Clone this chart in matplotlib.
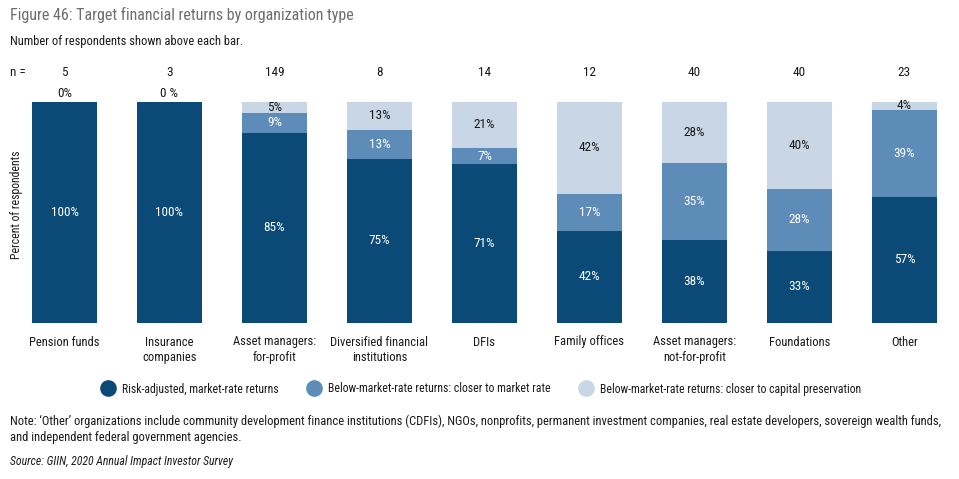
import matplotlib
matplotlib.use("Agg")
import matplotlib.pyplot as plt
from matplotlib import font_manager, transforms
import numpy as np

# narrow faces first, whatever is installed
wanted = ['Liberation Sans Narrow', 'DejaVu Sans Condensed', 'Roboto Condensed',
          'Open Sans Condensed', 'Liberation Sans', 'DejaVu Sans']
have = {f.name for f in font_manager.fontManager.ttflist}
plt.rcParams['font.family'] = [f for f in wanted if f in have]
plt.rcParams['font.stretch'] = 'condensed'

categories = ["Pension funds", "Insurance\ncompanies", "Asset managers:\nfor-profit",
              "Diversified financial\ninstitutions", "DFIs", "Family offices",
              "Asset managers:\nnot-for-profit", "Foundations", "Other"]
n_resp = [5, 3, 149, 8, 14, 12, 40, 40, 23]
market_rate = [100, 100, 85, 75, 71, 42, 38, 33, 57]
closer_market = [0, 0, 9, 13, 7, 17, 35, 28, 39]
closer_capital = [0, 0, 5, 13, 21, 42, 28, 40, 4]
zero_labels = ["0%", "0 %"]

series_names = ["Risk-adjusted, market-rate returns",
                "Below-market-rate returns: closer to market rate",
                "Below-market-rate returns: closer to capital preservation"]
colors = ["#0b4a77", "#5e8cb8", "#c9d6e5"]
text_colors = ["white", "white", "#1a1a1a"]
ink = "#1a1a1a"

fig = plt.figure(figsize=(9.59, 4.79), dpi=100)
ax = fig.add_axes([12 / 959, 1 - 323 / 479, 945 / 959, 221.5 / 479])

x = np.arange(len(categories))
data = np.array([market_rate, closer_market, closer_capital], dtype=float)
# shares are rounded, so stretch each bar to a full 100
heights = data / data.sum(axis=0) * 100
bottom = np.zeros(len(categories))
for k in range(3):
    ax.bar(x, heights[k], 0.62, bottom=bottom, color=colors[k], linewidth=0)
    for i in range(len(categories)):
        v = data[k, i]
        if v > 0:
            ax.text(x[i], bottom[i] + heights[k, i] / 2, f"{int(v)}%", ha="center",
                    va="center", color=text_colors[k], fontsize=9.5)
    bottom += heights[k]

# zero-share labels just above the first two bars
for i, lab in enumerate(zero_labels):
    ax.text(x[i], 100.6, lab, ha="center", va="bottom", fontsize=9.5, color=ink)

# respondent counts
top_row = transforms.blended_transform_factory(ax.transData, fig.transFigure)
for i, n in enumerate(n_resp):
    ax.text(x[i], 1 - 73 / 479, str(n), ha="center", va="center", fontsize=9.5,
            color=ink, transform=top_row)
fig.text(10 / 959, 1 - 73 / 479, "n =", ha="left", va="center", fontsize=9.5, color=ink)

ax.set_xlim(-0.5, len(categories) - 0.5)
ax.set_ylim(0, 100)
ax.set_xticks(x)
ax.set_xticklabels(categories, fontsize=9, color=ink, linespacing=1.25)
ax.tick_params(axis="x", length=0, pad=9)
ax.set_yticks([])
for s in ax.spines.values():
    s.set_visible(False)

fig.text(17 / 959, 1 - 205 / 479, "Percent of respondents", rotation=90, ha="center",
         va="center", fontsize=8.5, color=ink)

fig.text(10 / 959, 1 - 15 / 479, "Figure 46: Target financial returns by organization type",
         ha="left", va="center", fontsize=11.5, color="#6d6e71")
fig.text(10 / 959, 1 - 42 / 479, "Number of respondents shown above each bar.",
         ha="left", va="center", fontsize=9, color=ink)

handles = [plt.Line2D([], [], marker="o", linestyle="", markersize=12,
                      markerfacecolor=c, markeredgewidth=0) for c in colors]
fig.legend(handles, series_names, loc="center", bbox_to_anchor=(481 / 959, 1 - 389 / 479),
           ncol=3, frameon=False, fontsize=8.5, handletextpad=0.6, columnspacing=2.4,
           handlelength=1.2, labelcolor=ink)

fig.text(10 / 959, 1 - 421 / 479,
         "Note: \u2018Other\u2019 organizations include community development finance institutions "
         "(CDFIs), NGOs, nonprofits, permanent investment companies, real estate developers, "
         "sovereign wealth funds,",
         ha="left", va="center", fontsize=9, color=ink)
fig.text(10 / 959, 1 - 438 / 479, "and independent federal government agencies.",
         ha="left", va="center", fontsize=9, color=ink)
fig.text(10 / 959, 1 - 462 / 479, "Source: GIIN, 2020 Annual Impact Investor Survey",
         ha="left", va="center", fontsize=8.5, style="italic", color=ink)

fig.savefig("out.png", dpi=100)
